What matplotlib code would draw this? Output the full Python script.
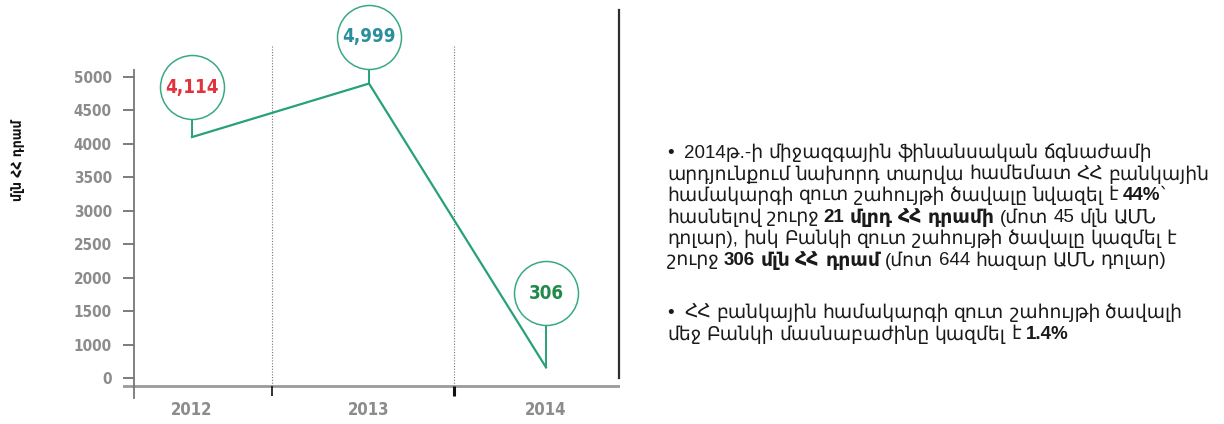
import matplotlib
matplotlib.use("Agg")
import matplotlib.pyplot as plt
import numpy as np
from matplotlib.lines import Line2D
from matplotlib.transforms import IdentityTransform, Affine2D

# data
years = ["2012", "2013", "2014"]
profit = [4114, 4999, 306]
profit_labels = ["4,114", "4,999", "306"]
label_colors = ["#e0333c", "#2a8f9c", "#1f8a4a"]
ytick_labels = ["0", "1000", "1500", "2000", "2500", "3000", "3500", "4000", "4500", "5000"]
ylabel = "մլն ՀՀ դրամ"

# note text: lines of (text, bold) parts
para1 = [
    [("•  2014թ.-ի միջազգային ֆինանսական ճգնաժամի", False)],
    [("արդյունքում նախորդ տարվա համեմատ ՀՀ բանկային", False)],
    [("համակարգի զուտ շահույթի ծավալը նվազել է ", False), ("44%", True), ("՝", False)],
    [("հասնելով շուրջ ", False), ("21 մլրդ ՀՀ դրամի", True), (" (մոտ 45 մլն ԱՄՆ", False)],
    [("դոլար), իսկ Բանկի զուտ շահույթի ծավալը կազմել է", False)],
    [("շուրջ ", False), ("306 մլն ՀՀ դրամ", True), (" (մոտ 644 հազար ԱՄՆ դոլար)", False)],
]
para2 = [
    [("•  ՀՀ բանկային համակարգի զուտ շահույթի ծավալի", False)],
    [("մեջ Բանկի մասնաբաժինը կազմել է ", False), ("1.4%", True)],
]

W, H = 1224, 424
green = "#27a07b"
body = ["Liberation Sans", "DejaVu Sans"]
cond = dict(family="DejaVu Sans", fontstretch="condensed", fontweight="bold")

fig = plt.figure(figsize=(W / 100, H / 100), dpi=100)
ax = fig.add_axes([123 / W, 26 / H, 497 / W, 328 / H])

x = np.arange(len(years))
ylo, yhi = -200, 5223
ax.set_xlim(-0.39, 2.418)
ax.set_ylim(ylo, yhi)

ax.plot(x, profit, color=green, lw=1.6, solid_joinstyle="miter", zorder=3)

# callout bubbles
offsets = [50, 47, 74]
r = 32
for xi, v, lab, c, off in zip(x, profit, profit_labels, label_colors, offsets):
    ax.annotate("", xy=(xi, v), xytext=(0, off - r), textcoords="offset pixels",
                arrowprops=dict(arrowstyle="-", color=green, lw=1.4, shrinkA=0, shrinkB=0))
    ax.plot([xi], [v], transform=ax.transData + Affine2D().translate(0, off),
            marker="o", ms=2 * r * 0.72, mfc="white", mec="#3aa983", mew=1.1,
            zorder=4, clip_on=False)
    ax.annotate(lab, xy=(xi, v), xytext=(0, off), textcoords="offset pixels",
                ha="center", va="center", color=c, fontsize=13.5, zorder=5,
                annotation_clip=False, **cond)

# spines
for s in ["top", "right", "bottom"]:
    ax.spines[s].set_visible(False)
ax.spines["left"].set_position(("axes", 11 / 497))
ax.spines["left"].set_color("#777777")
ax.spines["left"].set_linewidth(1.3)
ax.axhline(0, color="#9a9a9a", lw=2, zorder=2)

# decorative evenly spaced y ticks as in the original
ypos = ylo + np.linspace(0.061, 0.979, len(ytick_labels)) * (yhi - ylo)
ax.set_yticks(ypos, ytick_labels)
ax.tick_params(axis="y", direction="out", length=8, width=1.2, color="#666666",
               pad=8, labelcolor="#8c8c8c", labelsize=11)
for t in ax.get_yticklabels():
    t.set_family(cond["family"])
    t.set_fontstretch("condensed")
    t.set_fontweight("bold")

ax.set_xticks(x, years)
ax.tick_params(axis="x", length=0, pad=2, labelcolor="#8c8c8c", labelsize=12)
for t in ax.get_xticklabels():
    t.set_family(cond["family"])
    t.set_fontstretch("condensed")
    t.set_fontweight("bold")

# separators between years
seps = [0.45, 1.48]
xt = ax.get_xaxis_transform()
ax.vlines(seps, 12 / 328, 353 / 328, transform=xt, colors="#777777", lw=0.8,
          linestyles=(0, (1, 1.5)), clip_on=False, zorder=1)
ax.vlines(seps, 2 / 328, 12 / 328, transform=xt, colors="#111111", lw=[1.2, 2.2],
          clip_on=False, zorder=3)

fig.text(18 / W, 1 - 160 / H, ylabel, rotation=90, ha="center", va="center",
         fontsize=10, color="#111111", **cond)

# divider
fig.add_artist(Line2D([619 / W, 619 / W], [1 - 10 / H, 1 - 378 / H],
                      color="#2e2e2e", lw=1.6))

# note text laid out word by word so bold runs fit inline
renderer = fig.canvas.get_renderer()
fs = 13.5


def width_of(s, bold):
    t = fig.text(0, 0, s, fontsize=fs, family=body, fontweight="bold" if bold else "normal")
    w = t.get_window_extent(renderer).width
    t.remove()
    return w


space_w = width_of("a a", False) - width_of("aa", False)


def draw_line(parts, x0, y):
    xc = x0
    for text, bold in parts:
        words = text.split(" ")
        for i, wd in enumerate(words):
            if i > 0:
                xc += space_w
            if wd:
                t = fig.text(xc, H - y, wd, transform=IdentityTransform(), fontsize=fs,
                             family=body, fontweight="bold" if bold else "normal",
                             va="center", ha="left", color="#1a1a1a")
                xc += t.get_window_extent(renderer).width


x0 = 667
line_h = 21.5
for i, ln in enumerate(para1):
    draw_line(ln, x0, 153 + i * line_h)
for i, ln in enumerate(para2):
    draw_line(ln, x0, 313 + i * line_h)

fig.savefig("out.png", dpi=100)
